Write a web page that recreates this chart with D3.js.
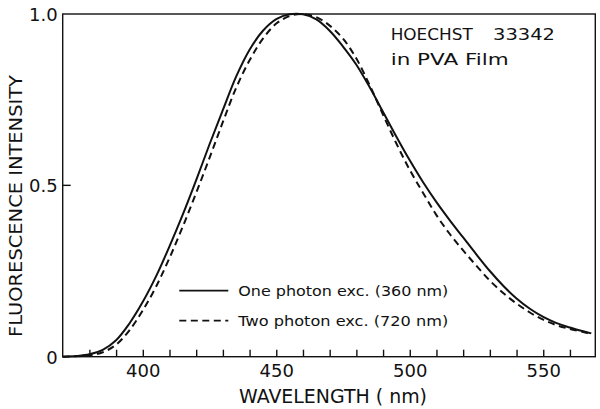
<!DOCTYPE html>
<html><head><meta charset="utf-8">
<script src="https://cdn.jsdelivr.net/npm/d3@7"></script>
<style>
body{margin:0;background:#fff}
text{font-family:"DejaVu Sans",sans-serif;fill:#111}
</style>
</head><body><svg id="c" width="600" height="409"></svg>
<script>
// ---- data ----
const wavelengths = [370,375,380,385,390,395,400,405,410,415,420,425,430,435,440,445,450,455,460,465,470,475,480,485,490,495,500,505,510,515,520,525,530,535,540,545,550,555,560,565,568];
const onePhoton  = [0.000,0.002,0.007,0.020,0.048,0.097,0.160,0.235,0.322,0.415,0.515,0.620,0.720,0.818,0.896,0.951,0.985,0.999,0.999,0.984,0.951,0.905,0.852,0.786,0.714,0.642,0.573,0.509,0.451,0.398,0.348,0.298,0.250,0.207,0.170,0.140,0.116,0.098,0.085,0.074,0.068];
const twoPhoton  = [0.000,0.001,0.004,0.013,0.035,0.077,0.135,0.205,0.288,0.380,0.478,0.580,0.685,0.785,0.865,0.928,0.972,0.994,1.000,0.991,0.966,0.928,0.870,0.792,0.706,0.622,0.545,0.478,0.413,0.358,0.310,0.265,0.222,0.186,0.155,0.129,0.108,0.092,0.081,0.072,0.067];
const xTicks = [380,390,400,410,420,430,440,450,460,470,480,490,500,510,520,530,540,550,560];
const xTickLabels = [400,450,500,550];
const yTicks = [0,0.5,1.0];
const yTickLabels = ["0","0.5","1.0"];
const legendLabels = ["One photon exc. (360 nm)","Two photon exc. (720 nm)"];
const noteLines = ["HOECHST","33342","in PVA Film"];

// ---- layout ----
const L = 62.7, R = 595.3, T = 14, B = 356.7;
const svg = d3.select("#c");
const x = d3.scaleLinear().domain([370, 569.5]).range([L, R]);
const y = d3.scaleLinear().domain([0, 1]).range([B, T]);
const ink = "#111";

// frame
svg.append("rect").attr("x", L).attr("y", T).attr("width", R - L).attr("height", B - T)
  .attr("fill", "none").attr("stroke", ink).attr("stroke-width", 1.4);

// x axis
const xAxis = d3.axisBottom(x).tickValues(xTicks).tickSizeInner(-7).tickSizeOuter(0).tickPadding(0)
  .tickFormat(d => xTickLabels.includes(d) ? String(d) : "");
const gx = svg.append("g").attr("transform", `translate(0,${B})`).call(xAxis);
gx.select(".domain").remove();
gx.selectAll(".tick line").attr("stroke", ink).attr("stroke-width", 1.4);
gx.selectAll(".tick text").attr("dy", null).attr("y", 20.5).attr("font-size", 18)
  .attr("font-family", "DejaVu Sans").attr("fill", ink);

// y axis
const yAxis = d3.axisLeft(y).tickValues(yTicks).tickSizeInner(0).tickSizeOuter(0).tickPadding(5)
  .tickFormat((d, i) => yTickLabels[i]);
const gy = svg.append("g").attr("transform", `translate(${L},0)`).call(yAxis);
gy.select(".domain").remove();
gy.selectAll(".tick text").attr("dy", null).attr("y", 6.5).attr("font-size", 18)
  .attr("font-family", "DejaVu Sans").attr("fill", ink);
// inward tick at 0.5
svg.append("line").attr("x1", L).attr("x2", L + 8).attr("y1", y(0.5)).attr("y2", y(0.5))
  .attr("stroke", ink).attr("stroke-width", 1.4);

// axis titles
svg.append("text").attr("x", 239).attr("y", 403).attr("font-size", 19)
  .attr("textLength", 188).attr("lengthAdjust", "spacingAndGlyphs")
  .text("WAVELENGTH  ( nm)");
svg.append("text").attr("transform", "translate(21.5,337) rotate(-90)").attr("font-size", 18)
  .attr("textLength", 262).attr("lengthAdjust", "spacingAndGlyphs")
  .text("FLUORESCENCE  INTENSITY");

// curves
const series = [
  {vals: onePhoton, dash: null},
  {vals: twoPhoton, dash: "7,4.5"}
];
const line = d3.line().x(d => x(d[0])).y(d => y(d[1])).curve(d3.curveCatmullRom.alpha(0.5));
series.forEach(s => {
  svg.append("path").datum(wavelengths.map((w, i) => [w, s.vals[i]]))
    .attr("d", line).attr("fill", "none").attr("stroke", ink).attr("stroke-width", 2)
    .attr("stroke-dasharray", s.dash);
});

// legend
const legY = [290.7, 320.7];
legendLabels.forEach((lab, i) => {
  svg.append("line").attr("x1", 179.3).attr("x2", 228.3).attr("y1", legY[i]).attr("y2", legY[i])
    .attr("stroke", ink).attr("stroke-width", 1.8).attr("stroke-dasharray", series[i].dash);
  svg.append("text").attr("x", 238.3).attr("y", legY[i] + 5).attr("font-size", 14)
    .attr("textLength", 210).attr("lengthAdjust", "spacingAndGlyphs").text(lab);
});

// annotation
svg.append("text").attr("x", 390.7).attr("y", 40).attr("font-size", 16.5)
  .attr("textLength", 82).attr("lengthAdjust", "spacingAndGlyphs").text(noteLines[0]);
svg.append("text").attr("x", 493).attr("y", 40).attr("font-size", 16.5)
  .attr("textLength", 62).attr("lengthAdjust", "spacingAndGlyphs").text(noteLines[1]);
svg.append("text").attr("x", 390.7).attr("y", 65).attr("font-size", 16.5)
  .attr("textLength", 118).attr("lengthAdjust", "spacingAndGlyphs").text(noteLines[2]);
</script>
</body></html>
